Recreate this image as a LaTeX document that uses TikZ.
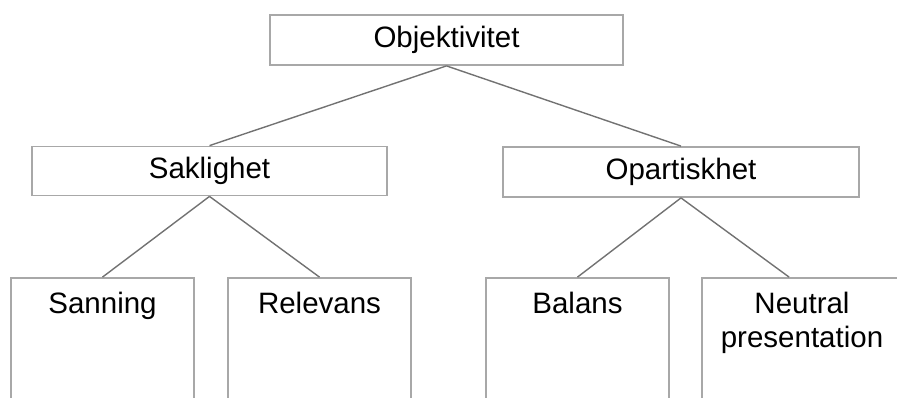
\documentclass[tikz,border=0pt]{standalone}
\usepackage{fontspec}
\setmainfont{Liberation Sans}
\usetikzlibrary{calc}
\definecolor{boxgray}{HTML}{A8A8A8}
\definecolor{linegray}{HTML}{727272}
\begin{document}
\begin{tikzpicture}[x=1pt,y=-1pt,
  box/.style={draw=boxgray, line width=1.8pt, inner sep=0pt, font=\fontsize{29.5}{34}\selectfont},
  leaf/.style={box, minimum width=183pt, minimum height=200pt},
  conn/.style={draw=linegray, line width=1.4pt},
  lbl/.style={font=\fontsize{29.5}{34}\selectfont, align=center, anchor=north, inner sep=0pt}]
\useasboundingbox (0,0) rectangle (897,397);
\clip (0,0) rectangle (897,397);
\node[box, minimum width=353pt, minimum height=50pt] (obj) at (446.5,40) {Objektivitet};
\node[box, minimum width=355pt, minimum height=49pt] (sak) at (209.5,171) {Saklighet};
\node[box, minimum width=356pt, minimum height=50pt] (opa) at (681,172) {Opartiskhet};
\node[leaf] (san) at (102.5,378) {};
\node[leaf] (rel) at (319.5,378) {};
\node[leaf] (bal) at (577.5,378) {};
\node[leaf, minimum width=200pt] (neu) at (802,378) {};
\node[lbl] (tsan) at (102.5,291.5) {Sanning};
\node[lbl] (trel) at (319.5,291.5) {Relevans};
\node[lbl] (tbal) at (577.5,291.5) {Balans};
\node[lbl] (tneu) at (802,291.5) {Neutral\\presentation};
\coordinate (neutop) at ($(neu.north west)+(88,0)$);
\draw[conn] (obj.south) -- (sak.north);
\draw[conn] (obj.south) -- (opa.north);
\draw[conn] (sak.south) -- (san.north);
\draw[conn] (sak.south) -- (rel.north);
\draw[conn] (opa.south) -- (bal.north);
\draw[conn] (opa.south) -- (neutop);
\end{tikzpicture}
\end{document}
